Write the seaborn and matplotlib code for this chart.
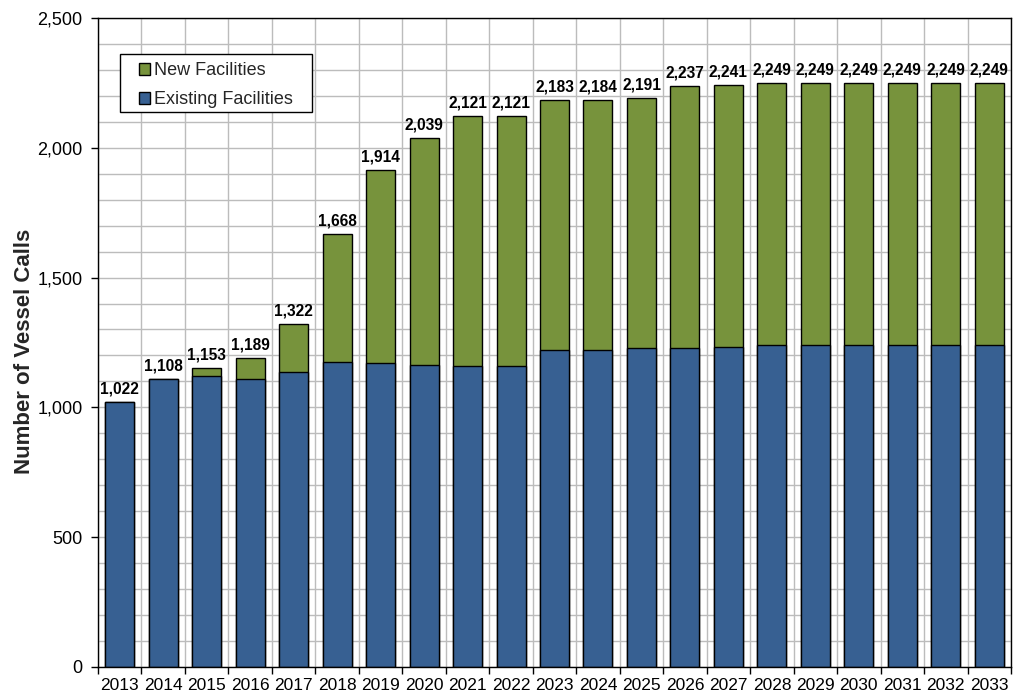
import matplotlib
matplotlib.use("Agg")
import matplotlib.pyplot as plt
from matplotlib.patches import Rectangle
from matplotlib.ticker import MultipleLocator, FixedLocator, FuncFormatter
import seaborn as sns
import pandas as pd

years = [str(y) for y in range(2013, 2034)]
total_calls = [1022, 1108, 1153, 1189, 1322, 1668, 1914, 2039, 2121, 2121, 2183,
               2184, 2191, 2237, 2241, 2249, 2249, 2249, 2249, 2249, 2249]
existing_calls = [1022, 1108, 1120, 1108, 1137, 1175, 1171, 1163, 1158, 1158, 1221,
                  1222, 1229, 1229, 1232, 1240, 1240, 1240, 1240, 1240, 1240]
series_names = ["New Facilities", "Existing Facilities"]

df = pd.DataFrame({"year": years, "total": total_calls, "existing": existing_calls})

sns.set_theme(style="white")
plt.rcParams["font.family"] = ["Liberation Sans", "DejaVu Sans"]

green = "#77933C"
blue = "#376092"
grid_color = "#bcbcbc"

fig = plt.figure(figsize=(10.2, 6.96), dpi=100)
ax = fig.add_axes([0.0961, 0.0417, 0.8951, 0.9325])

# full stack height drawn in green, existing share drawn over it in blue
sns.barplot(data=df, x="year", y="total", color=green, width=0.667,
            edgecolor="black", linewidth=1.0, saturation=1, label=series_names[0], ax=ax)
sns.barplot(data=df, x="year", y="existing", color=blue, width=0.667,
            edgecolor="black", linewidth=1.0, saturation=1, label=series_names[1], ax=ax)

ax.bar_label(ax.containers[0], labels=[f"{v:,}" for v in total_calls], padding=4,
             fontsize=11.2, fontweight="bold", color="black")

ax.set_xlim(-0.5, len(years) - 0.5)
ax.set_ylim(0, 2500)

ax.yaxis.set_major_locator(MultipleLocator(500))
ax.yaxis.set_minor_locator(MultipleLocator(100))
ax.yaxis.set_major_formatter(FuncFormatter(lambda v, p: f"{v:,.0f}"))
ax.xaxis.set_minor_locator(FixedLocator([i - 0.5 for i in range(len(years) + 1)]))

ax.tick_params(axis="x", which="major", length=0, labelsize=12.5, pad=8, colors="black")
ax.tick_params(axis="x", which="minor", length=5, width=1, direction="out", color="black", bottom=True)
ax.tick_params(axis="y", which="major", length=5, width=1, direction="out", labelsize=13,
               pad=6, colors="black", left=True)
ax.tick_params(axis="y", which="minor", length=0)

ax.set_axisbelow(True)
ax.grid(False)
ax.yaxis.grid(True, which="both", color=grid_color, linewidth=1)
ax.xaxis.grid(True, which="minor", color=grid_color, linewidth=1)

for s in ax.spines.values():
    s.set_color("black")
    s.set_linewidth(1)
    s.set_visible(True)

ax.set_xlabel("")
ax.set_ylabel("Number of Vessel Calls", fontsize=16, fontweight="bold")
ax.yaxis.set_label_coords(-0.069, 0.487)

# legend frame drawn as its own box, entries placed inside it
ax.add_patch(Rectangle((0.0241, 0.8552), 0.2100, 0.0893, transform=ax.transAxes,
                       facecolor="white", edgecolor="black", linewidth=1, zorder=5))
leg = ax.legend(loc="upper left", bbox_to_anchor=(0.0449, 0.9315), borderaxespad=0,
                borderpad=0, fontsize=13, frameon=False,
                handlelength=0.62, handleheight=0.62, handletextpad=0.2,
                labelspacing=0.66)
leg.set_zorder(6)

fig.savefig("out.png", dpi=100, facecolor="white")
